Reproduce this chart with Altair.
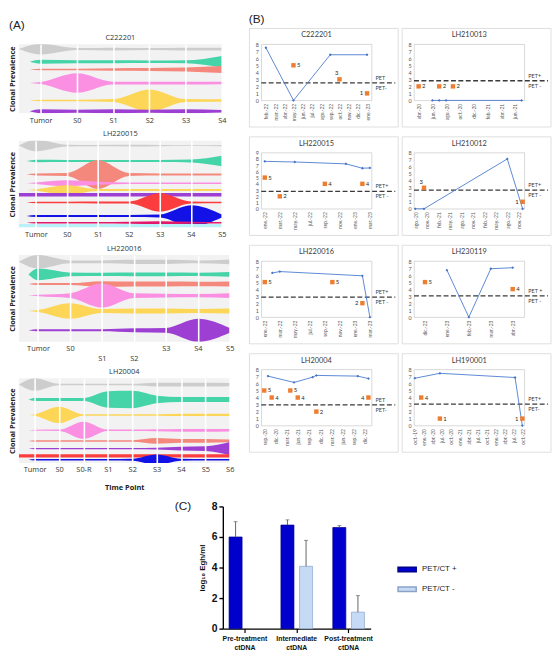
import json
import altair as alt
import pandas as pd

FONT_A = "Open Sans"
FONT_B = "Lato"
FONT_C = "Liberation Sans"

# ---------------------------------------------------------------- (A) fish plots
CLONE_COLORS = {
    "grey": "#cdcdcd", "green": "#45d3a8", "salmon": "#f5887c", "pink": "#fb90e2",
    "yellow": "#fdd658", "purple": "#9d3fd3", "red": "#fb3d3d", "blue": "#1212e6",
    "magenta": "#e2186a", "cyan": "#b8f1fa",
}

# C222201
c222201_times = ["Tumor", "S0", "S1", "S2", "S3", "S4"]
c222201_clones = ["grey", "green", "salmon", "pink", "yellow", "purple"]
c222201_prev = [
    [11, 2, 3, 2, 3, 3],
    [4, 3, 3, 2.5, 3, 12],
    [1.5, 1.5, 2.5, 3, 4, 7],
    [2, 20, 3, 3, 3, 2.5],
    [1.5, 1.5, 3, 23, 3, 2.5],
    [4, 3, 4, 3, 4, 2.5],
]
c222201_rows = [5, 18, 26, 40, 58, 69]
c222201_emerge_x = [-0.6, -0.3, -0.3, -0.3, -0.3, -0.3]
c222201_emerge_t = [0, 0, 0, 0, 0, 0]

# LH220015
lh220015_times = ["Tumor", "S0", "S1", "S2", "S3", "S4", "S5"]
lh220015_clones = ["grey", "green", "salmon", "pink", "yellow", "purple", "red", "blue", "magenta", "cyan"]
lh220015_prev = [
    [12, 2, 1.5, 2, 1.5, 1, 1.5],
    [2.5, 2, 2, 2, 2, 3, 11],
    [2, 3, 30, 3, 2, 2, 2],
    [1.5, 6, 3, 1.5, 1.5, 1.5, 1.5],
    [1.5, 10, 2, 2, 2, 2, 2],
    [3.5, 3.5, 3.5, 3.5, 3.5, 3.5, 3.5],
    [1.5, 1.5, 2, 2, 19, 2, 1.5],
    [2, 2, 2, 2, 3, 22, 3],
    [1.5, 1.5, 1.5, 2, 3, 2, 1.5],
    [3.5, 3.5, 3.5, 3.5, 3.5, 3.5, 3.5],
]
lh220015_rows = [5, 21, 35, 44, 51, 56, 64, 78, 85, 88]
lh220015_emerge_x = [-0.55, -0.3, -0.3, -0.3, -0.3, -0.55, -0.3, -0.3, -0.3, -0.55]
lh220015_emerge_t = [0, 0, 0, 0, 0, 3.5, 0, 0, 0, 3.5]

# LH220016
lh220016_times = ["Tumor", "S0", "S1", "S2", "S3", "S4", "S5"]
lh220016_clones = ["grey", "green", "salmon", "pink", "yellow", "purple"]
lh220016_prev = [
    [14, 3, 3, 4.5, 4.5, 3, 5],
    [12, 4, 3.5, 4, 4, 3.5, 5],
    [2, 2, 6, 5, 5, 4.5, 5],
    [1.5, 5, 25, 5, 4, 3.5, 5],
    [2, 16, 4, 5, 5, 4, 5],
    [2, 2, 2, 4, 5, 24, 5],
]
lh220016_rows = [7, 20, 30, 42, 58, 78]
lh220016_emerge_x = [-0.6, -0.3, -0.3, -0.3, -0.3, -0.3]
lh220016_emerge_t = [0, 0, 0, 0, 0, 0]

# LH20004
lh20004_times = ["Tumor", "S0", "S0-R", "S1", "S2", "S3", "S4", "S5", "S6"]
lh20004_clones = ["grey", "green", "yellow", "pink", "salmon", "purple", "red", "blue"]
lh20004_prev = [
    [13, 1.5, 1.5, 1.5, 1.5, 4, 4, 4, 3.5],
    [3, 3, 3, 17, 18, 8, 5, 5, 5],
    [1.5, 17, 1.5, 1.5, 1.5, 1.5, 2.5, 2.5, 2.5],
    [1, 1.5, 18, 1.5, 1.5, 2, 3, 3, 2.5],
    [1.5, 1.5, 1.5, 1.5, 1.5, 6, 4, 4, 3],
    [1.5, 1.5, 1.5, 1.5, 1.5, 2, 4, 5, 14],
    [3.5, 3.5, 3.5, 3.5, 3.5, 3.5, 3.5, 3.5, 3.5],
    [1.5, 1.5, 1.5, 1.5, 2, 11, 2, 1.5, 1.5],
]
lh20004_rows = [6.5, 22, 38, 54, 65, 73, 80.5, 84.5]
lh20004_emerge_x = [-0.65, -0.25, -0.25, -0.25, -0.25, -0.25, -0.65, -0.25]
lh20004_emerge_t = [0, 0, 0, 0, 0, 0, 3.5, 0]


def fish(name, times, clones, prev, rows, ex, et, ref_h, width, xmin, lowered=(), last=False):
    recs = []
    for k, cl in enumerate(clones):
        pts = [(ex[k], et[k])] + [(i, v) for i, v in enumerate(prev[k])]
        for x, t in pts:
            recs.append({"cid": f"c{k:02d}", "col": CLONE_COLORS[cl], "x": x,
                         "lo": rows[k] - t / 2, "hi": rows[k] + t / 2})
    df = pd.DataFrame(recs)
    n = len(times)
    labels = [["", t] if i in lowered else t for i, t in enumerate(times)]
    ax = dict(values=list(range(n)), labelExpr=f"{json.dumps(labels)}[datum.value]",
              grid=True, gridColor="white", gridWidth=1.6, ticks=False, domain=False,
              labelFont=FONT_A, labelFontSize=7.5, labelColor="#333333", labelPadding=3,
              labelFlush=False, labelOverlap=False, zindex=1)
    if last:
        ax.update(title="Time Point", titleFont=FONT_A, titleFontSize=7.5, titleFontWeight="bold",
                  titleColor="#222222", titlePadding=10)
    else:
        ax.update(title=None)
    return alt.Chart(df).mark_area(interpolate="monotone", clip=True).encode(
        x=alt.X("x:Q", scale=alt.Scale(domain=[xmin, n - 1], nice=False, zero=False), axis=alt.Axis(**ax)),
        y=alt.Y("lo:Q", stack=None, scale=alt.Scale(domain=[ref_h, 0], nice=False, zero=False),
                axis=alt.Axis(title="Clonal Prevalence", labels=False, ticks=False, domain=False, grid=False,
                              titleFont=FONT_A, titleFontWeight="bold", titleFontSize=7.5,
                              titleColor="#222222", titlePadding=2)),
        y2="hi:Q",
        color=alt.Color("col:N", scale=None),
        detail="cid:N",
    ).properties(
        width=width, height=round(ref_h * 0.98),
        title=alt.Title(name, font=FONT_A, fontSize=7.5, fontWeight="normal", color="#333333",
                        offset=3, frame="group"),
        view=alt.ViewBackground(fill="#f2f2f2", stroke=None),
    )


fA1 = fish("C222201", c222201_times, c222201_clones, c222201_prev, c222201_rows,
           c222201_emerge_x, c222201_emerge_t, 71, 206, -0.6)
fA2 = fish("LH220015", lh220015_times, lh220015_clones, lh220015_prev, lh220015_rows,
           lh220015_emerge_x, lh220015_emerge_t, 90, 206, -0.55)
fA3 = fish("LH220016", lh220016_times, lh220016_clones, lh220016_prev, lh220016_rows,
           lh220016_emerge_x, lh220016_emerge_t, 90, 214, -0.6, lowered=(2, 3))
fA4 = fish("LH20004", lh20004_times, lh20004_clones, lh20004_prev, lh20004_rows,
           lh20004_emerge_x, lh20004_emerge_t, 88, 214, -0.65, last=True)

panelA = alt.vconcat(fA1, fA2, fA3, fA4, spacing=6,
                     title=alt.Title("(A)", anchor="start", font=FONT_C, fontSize=12, fontWeight="normal",
                                     color="#222222", offset=2))

# ---------------------------------------------------------------- (B) ctDNA vs PET panels
MESES = ["ene.", "feb.", "mar.", "abr.", "may.", "jun.", "jul.", "ago.", "sep.", "oct.", "nov.", "dic."]


def mi(s):
    p = s.split("-")
    y, m = int(p[0]), int(p[1])
    d = int(p[2]) if len(p) > 2 else 1
    return y * 12 + (m - 1) + (d - 1) / 30.0


b_c222201 = dict(
    name="C222201",
    ticks=["2022-02", "2022-03", "2022-04", "2022-05", "2022-06", "2022-07", "2022-08", "2022-09",
           "2022-10", "2022-11", "2022-12", "2023-01"],
    dom=("2022-01-16", "2023-01-16"),
    line_d=["2022-02", "2022-05", "2022-09", "2023-01"], line_v=[7.5, 0, 6.5, 6.5],
    sq_d=["2022-05", "2022-10", "2023-01"], sq_v=[5, 3, 1], sq_side=["r", "t", "l"],
    thr=2.5, pet=("PET", "PET-"), ymax=8)
b_lh210013 = dict(
    name="LH210013",
    ticks=["2020-04", "2020-06", "2020-08", "2020-10", "2020-12", "2021-02", "2021-04", "2021-06"],
    dom=("2020-03-11", "2021-07-13"),
    line_d=["2020-06", "2020-07", "2020-08", "2021-07"], line_v=[0, 0, 0, 0],
    sq_d=["2020-04", "2020-07", "2020-09"], sq_v=[2, 2, 2], sq_side=["r", "r", "r"],
    thr=2.8, pet=("PET+", "PET -"), ymax=8)
b_lh220015 = dict(
    name="LH220015",
    ticks=["2022-01", "2022-03", "2022-05", "2022-07", "2022-09", "2022-11", "2023-01", "2023-03"],
    dom=("2021-12-17", "2023-03-08"),
    line_d=["2022-01", "2022-05", "2022-11-25", "2023-02", "2023-03"], line_v=[7.6, 7.5, 7.2, 6.5, 6.55],
    sq_d=["2022-01", "2022-03", "2022-09", "2023-02"], sq_v=[5, 2, 4, 4], sq_side=["r", "r", "r", "r"],
    thr=2.8, pet=("PET+", "PET -"), ymax=9)
b_lh210012 = dict(
    name="LH210012",
    ticks=["2020-08", "2020-11", "2021-02", "2021-05", "2021-08", "2021-11", "2022-02", "2022-05",
           "2022-08", "2022-11"],
    dom=("2020-07-22", "2022-12-15"),
    line_d=["2020-08", "2020-10-10", "2022-08", "2022-12"], line_v=[0, 0, 7.1, 0],
    sq_d=["2020-10-10", "2022-12"], sq_v=[3, 1], sq_side=["t", "l"],
    thr=2.65, pet=("PET+", "PET -"), ymax=8)
b_lh220016 = dict(
    name="LH220016",
    ticks=["2022-01", "2022-03", "2022-05", "2022-07", "2022-09", "2022-11", "2023-01", "2023-03"],
    dom=("2021-12-17", "2023-03-08"),
    line_d=["2022-02", "2022-03", "2023-02", "2023-03"], line_v=[6.3, 6.5, 5.9, 0],
    sq_d=["2022-01", "2022-10", "2023-02"], sq_v=[5, 5, 2], sq_side=["r", "r", "l"],
    thr=2.85, pet=("PET+", "PET -"), ymax=8)
b_lh230119 = dict(
    name="LH230119",
    ticks=["2022-12", "2023-01", "2023-02", "2023-03", "2023-04"],
    dom=("2022-11-16", "2023-04-17"),
    line_d=["2023-01", "2023-02", "2023-03", "2023-04"], line_v=[6.7, 0, 6.9, 7.05],
    sq_d=["2022-12", "2023-04"], sq_v=[5, 4], sq_side=["r", "r"],
    thr=3.05, pet=("PET +", "PET -"), ymax=8)
b_lh20004 = dict(
    name="LH20004",
    ticks=["2020-09", "2020-12", "2021-03", "2021-06", "2021-09", "2021-12", "2022-03", "2022-06",
           "2022-09", "2022-12"],
    dom=("2020-08-07", "2023-01-27"),
    line_d=["2020-10", "2021-05", "2021-10", "2021-11", "2022-10-05", "2023-01"],
    line_v=[7.05, 6.15, 6.9, 7.15, 7.05, 6.7],
    sq_d=["2020-09", "2020-11", "2021-04", "2021-06", "2021-11", "2023-01"], sq_v=[5, 4, 5, 4, 2, 4],
    sq_side=["r", "r", "r", "r", "r", "l"],
    thr=2.95, pet=("PET", "PET-"), ymax=8)
b_lh190001 = dict(
    name="LH190001",
    ticks=["2019-10", "2020-01", "2020-04", "2020-07", "2020-10", "2021-01", "2021-04", "2021-07",
           "2021-10", "2022-01", "2022-04", "2022-07", "2022-10"],
    dom=("2019-09-22", "2022-10-22"),
    line_d=["2019-10", "2020-06-12", "2022-07-18", "2022-10"], line_v=[6.75, 7.45, 6.85, 0],
    sq_d=["2019-12-04", "2020-06-12", "2022-10"], sq_v=[4, 1, 1], sq_side=["r", "r", "l"],
    thr=3.05, pet=("PET+", "PET-"), ymax=8)

BW, BH = 112, 57
FL, FR, FT, FB = 12, 27, 16, 27


def pet_panel(p):
    ticks = [int(round(mi(t))) for t in p["ticks"]]
    month_expr = json.dumps(MESES)
    xs = alt.Scale(domain=[mi(p["dom"][0]), mi(p["dom"][1])], nice=False, zero=False)
    ys = alt.Scale(domain=[0, p["ymax"]], nice=False, zero=False)
    xax = alt.Axis(values=ticks, labelAngle=270, ticks=False, domain=False, grid=False, title=None,
                   labelExpr=f"{month_expr}[datum.value % 12] + '-' + format(floor(datum.value / 12) % 100, '02d')",
                   labelFont=FONT_B, labelFontSize=5, labelColor="#595959", labelPadding=3,
                   labelOverlap=False, labelFlush=False)
    yax = alt.Axis(values=list(range(p["ymax"] + 1)), ticks=False, domain=False, grid=False, title=None,
                   labelFont=FONT_B, labelFontSize=5.5, labelColor="#595959", labelPadding=3)

    def X(f):
        return alt.X(f, scale=xs, axis=xax)

    def Y(f):
        return alt.Y(f, scale=ys, axis=yax)

    one = pd.DataFrame({"k": [0]})
    frame = alt.Chart(one).mark_rect(fill="white", fillOpacity=0, stroke="#d6d6d6", strokeWidth=0.8).encode(
        x=alt.value(-FL), x2=alt.value(BW + FR), y=alt.value(-FT), y2=alt.value(BH + FB))

    thr_df = pd.DataFrame({"thr": [p["thr"]], "hi": [p["pet"][0]], "lo": [p["pet"][1]]})
    rule = alt.Chart(thr_df).mark_rule(strokeDash=[5, 2.5], strokeWidth=1.3, color="#3a3a3a").encode(
        y=Y("thr:Q"), x=alt.value(0), x2=alt.value(BW + 24))
    pet_hi = alt.Chart(thr_df).mark_text(align="left", baseline="bottom", dy=-2, font=FONT_B,
                                         fontSize=5.5, color="#404040").encode(
        y=Y("thr:Q"), x=alt.value(BW + 4), text="hi:N")
    pet_lo = alt.Chart(thr_df).mark_text(align="left", baseline="top", dy=3, font=FONT_B,
                                         fontSize=5.5, color="#404040").encode(
        y=Y("thr:Q"), x=alt.value(BW + 4), text="lo:N")

    line_df = pd.DataFrame({"m": [mi(d) for d in p["line_d"]], "v": p["line_v"]})
    line = alt.Chart(line_df).mark_line(
        color="#4a7bd0", strokeWidth=0.9,
        point=alt.OverlayMarkDef(shape="diamond", size=8, filled=True, color="#4472c4")).encode(
        x=X("m:Q"), y=Y("v:Q"))

    sq_df = pd.DataFrame({"m": [mi(d) for d in p["sq_d"]], "v": p["sq_v"],
                          "lab": [str(v) for v in p["sq_v"]], "side": p["sq_side"]})
    sq = alt.Chart(sq_df).mark_square(size=20, color="#ed7d31", opacity=1).encode(x=X("m:Q"), y=Y("v:Q"))
    layers = [frame, rule, line, sq]
    for side, kw in [("r", dict(align="left", dx=3.5)), ("l", dict(align="right", dx=-4)),
                     ("t", dict(align="right", dx=-1, dy=-6))]:
        sub = sq_df[sq_df["side"] == side]
        if len(sub):
            layers.append(alt.Chart(sub).mark_text(baseline="middle", font=FONT_B, fontSize=6,
                                                   color="#262626", **kw).encode(
                x=X("m:Q"), y=Y("v:Q"), text="lab:N"))
    layers += [pet_hi, pet_lo]
    return alt.layer(*layers).properties(
        width=BW, height=BH,
        title=alt.Title(p["name"], font=FONT_B, fontSize=7.5, fontWeight="normal", color="#404040",
                        offset=-11, frame="group"),
        view=alt.ViewBackground(fill="white", stroke="#c8c8c8", strokeWidth=0.7),
    )


panelB = alt.vconcat(
    alt.hconcat(pet_panel(b_c222201), pet_panel(b_lh210013), spacing=2),
    alt.hconcat(pet_panel(b_lh220015), pet_panel(b_lh210012), spacing=2),
    alt.hconcat(pet_panel(b_lh220016), pet_panel(b_lh230119), spacing=2),
    alt.hconcat(pet_panel(b_lh20004), pet_panel(b_lh190001), spacing=2),
    spacing=8,
    title=alt.Title("(B)", anchor="start", font=FONT_C, fontSize=12, fontWeight="normal",
                    color="#222222", offset=2),
)

# ---------------------------------------------------------------- (C) bar chart
c_groups = ["Pre-treatment ctDNA", "Intermediate ctDNA", "Post-treatment ctDNA"]
c_series = ["PET/CT +", "PET/CT -"]
c_pos_mean = [6.0, 6.78, 6.62]
c_pos_top = [7.0, 7.12, 6.74]
c_neg_mean = [None, 4.08, 1.08]
c_neg_top = [None, 5.78, 2.16]

crec = []
for g, m, t in zip(c_groups, c_pos_mean, c_pos_top):
    crec.append({"grp": g, "ser": c_series[0], "mean": m, "top": t})
for g, m, t in zip(c_groups, c_neg_mean, c_neg_top):
    if m is not None:
        crec.append({"grp": g, "ser": c_series[1], "mean": m, "top": t})
cdf = pd.DataFrame(crec)

CW, CH = 150, 124
cx = alt.X("grp:N", sort=c_groups, scale=alt.Scale(paddingInner=0.39, paddingOuter=0.12),
           axis=alt.Axis(title=None, labelAngle=0, labelExpr="split(datum.label, ' ')",
                         labelFont=FONT_C, labelFontSize=7, labelFontWeight="bold", labelColor="#111111",
                         labelLineHeight=9, labelPadding=2, domainColor="black", domainWidth=1.4,
                         tickColor="black", tickWidth=1.2, tickSize=4))
cxo = alt.XOffset("ser:N", sort=c_series, scale=alt.Scale(domain=c_series, paddingInner=0.3))
cy_scale = alt.Scale(domain=[0, 8], nice=False)
cy_axis = alt.Axis(values=[0, 2, 4, 6, 8], title="log\u2081\u2080 Egh/ml", grid=False,
                   labelFont=FONT_C, labelFontSize=10.5, labelFontWeight="bold", labelColor="#111111",
                   titleFont=FONT_C, titleFontSize=8, titleFontWeight="bold", titleColor="#111111",
                   titlePadding=5, domainColor="black", domainWidth=1.4, tickColor="black",
                   tickWidth=1.4, tickSize=4, labelPadding=2)
c_legend = alt.Legend(title=None, orient="none", legendX=CW + 27, legendY=54,
                      labelFont=FONT_C, labelFontSize=8, labelColor="#222222",
                      symbolType="M-1,-0.25L1,-0.25L1,0.25L-1,0.25Z", symbolSize=340,
                      rowPadding=4, labelOffset=5)

bars = alt.Chart(cdf).mark_bar(strokeWidth=0.7).encode(
    x=cx, xOffset=cxo,
    y=alt.Y("mean:Q", scale=cy_scale, axis=cy_axis),
    color=alt.Color("ser:N", scale=alt.Scale(domain=c_series, range=["#0000cc", "#c5daf5"]), legend=c_legend),
    stroke=alt.Stroke("ser:N", scale=alt.Scale(domain=c_series, range=["#00008a", "#8aa3c7"]), legend=c_legend),
)
err = alt.Chart(cdf).mark_rule(color="#555555", strokeWidth=0.9).encode(
    x=cx, xOffset=cxo, y=alt.Y("mean:Q", scale=cy_scale, axis=cy_axis), y2="top:Q")
cap = alt.Chart(cdf).mark_tick(orient="horizontal", size=4, thickness=0.9, color="#555555").encode(
    x=cx, xOffset=cxo, y=alt.Y("top:Q", scale=cy_scale, axis=cy_axis))

panelC = alt.layer(bars, err, cap).properties(
    width=CW, height=CH,
    title=alt.Title("(C)", anchor="start", frame="bounds", font=FONT_C, fontSize=12, fontWeight="normal",
                    color="#222222", dx=-24, offset=-12),
    view=alt.ViewBackground(stroke=None),
)

spacer = alt.Chart(pd.DataFrame({"k": [0]})).mark_point(opacity=0).encode(
    x=alt.value(0), y=alt.value(0)).properties(width=158, height=10, view=alt.ViewBackground(stroke=None))

top = alt.hconcat(panelA, panelB, spacing=14)
bottom = alt.hconcat(spacer, panelC, spacing=0).resolve_scale(
    color="independent", stroke="independent").resolve_legend(color="independent", stroke="independent")

chart = alt.vconcat(top, bottom, spacing=10).resolve_scale(
    color="independent", stroke="independent").resolve_legend(
    color="independent", stroke="independent").properties(padding=0, background="white")

chart.save("out.html", embed_options={"renderer": "svg", "actions": False})
